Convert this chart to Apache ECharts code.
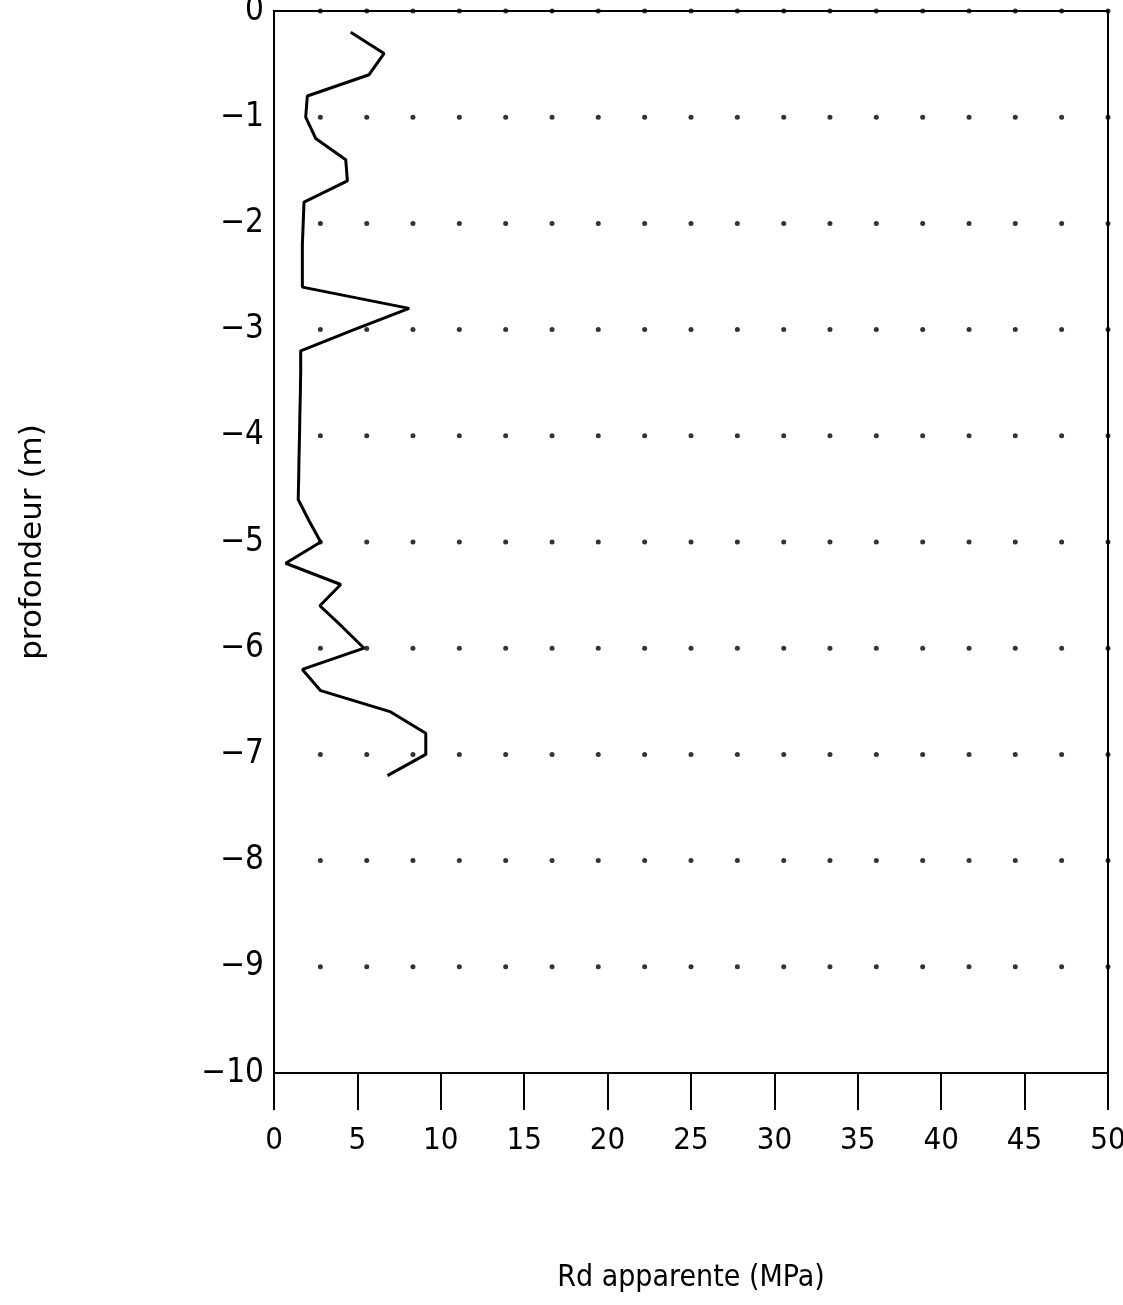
<!DOCTYPE html>
<html>
<head>
<meta charset="utf-8">
<title>Rd apparente</title>
<script src="https://cdn.jsdelivr.net/npm/echarts@6/dist/echarts.min.js"></script>
<style>
  html, body { margin: 0; padding: 0; background: #fff; }
  #chart { width: 1123px; height: 1305px; }
</style>
</head>
<body>
<div id="chart"></div>
<script>
// profondeur (m), pas de 0.2 m
var depths = [-0.2, -0.4, -0.6, -0.8, -1.0, -1.2, -1.4, -1.6, -1.8, -2.0,
  -2.2, -2.4, -2.6, -2.8, -3.0, -3.2, -3.4, -3.6, -3.8, -4.0,
  -4.2, -4.4, -4.6, -4.8, -5.0, -5.2, -5.4, -5.6, -5.8, -6.0,
  -6.2, -6.4, -6.6, -6.8, -7.0, -7.2];
// Rd apparente (MPa)
var rdValues = [4.6, 6.6, 5.7, 2.0, 1.9, 2.5, 4.3, 4.4, 1.8, 1.75,
  1.7, 1.7, 1.7, 8.1, 4.8, 1.6, 1.6, 1.58, 1.55, 1.53,
  1.5, 1.48, 1.45, 2.1, 2.8, 0.7, 4.0, 2.75, 4.1, 5.4,
  1.7, 2.8, 7.0, 9.1, 9.1, 6.8];

// trame de points
var dotCols = [2.78, 5.56, 8.33, 11.11, 13.89, 16.67, 19.44, 22.22, 25,
  27.78, 30.56, 33.33, 36.11, 38.89, 41.67, 44.44, 47.22, 50];
var dotRows = [0, -1, -2, -3, -4, -5, -6, -7, -8, -9];

var xTicks = [0, 5, 10, 15, 20, 25, 30, 35, 40, 45, 50];
var yTicks = [0, -1, -2, -3, -4, -5, -6, -7, -8, -9, -10];

var lineData = depths.map(function (d, i) { return [rdValues[i], d]; });
var dotData = [];
dotRows.forEach(function (r) {
  dotCols.forEach(function (c) { dotData.push([c, r]); });
});

var chartDom = document.getElementById('chart');
var myChart = echarts.init(chartDom);
var option;

var narrow = '"Liberation Sans Narrow", "DejaVu Sans Condensed", sans-serif';

option = {
  animation: false,
  backgroundColor: '#fff',
  grid: {
    left: 274,
    top: 11,
    right: 15,
    bottom: 232,
    outerBoundsMode: 'none',
    containLabel: false,
    show: true,
    borderColor: '#000',
    borderWidth: 2
  },
  xAxis: {
    type: 'value',
    min: xTicks[0],
    max: xTicks[xTicks.length - 1],
    interval: 5,
    position: 'bottom',
    name: 'Rd apparente (MPa)',
    nameLocation: 'middle',
    nameGap: 190,
    nameTextStyle: { fontFamily: narrow, fontSize: 30, color: '#000' },
    axisLine: { show: true, onZero: false, lineStyle: { color: '#000', width: 2 } },
    axisTick: { show: true, inside: false, length: 37, lineStyle: { color: '#000', width: 2 } },
    axisLabel: { margin: 52, fontFamily: narrow, fontSize: 31, color: '#000' },
    splitLine: { show: false }
  },
  yAxis: {
    type: 'value',
    min: yTicks[yTicks.length - 1],
    max: yTicks[0],
    interval: 1,
    name: 'profondeur (m)',
    nameLocation: 'middle',
    nameGap: 226,
    nameRotate: 90,
    nameTextStyle: { fontFamily: '"DejaVu Sans", sans-serif', fontSize: 31, color: '#000' },
    axisLine: { show: true, onZero: false, lineStyle: { color: '#000', width: 2 } },
    axisTick: { show: false },
    axisLabel: {
      margin: 10,
      fontFamily: narrow,
      fontSize: 33,
      color: '#000',
      formatter: function (v) { return String(v).replace('-', '\u2212'); }
    },
    splitLine: { show: false }
  },
  series: [
    {
      name: 'trame',
      type: 'scatter',
      data: dotData,
      symbol: 'circle',
      symbolSize: 5,
      itemStyle: { color: '#000' },
      silent: true
    },
    {
      name: 'Rd',
      type: 'line',
      data: lineData,
      showSymbol: false,
      lineStyle: { color: '#000', width: 3 }
    }
  ]
};

option && myChart.setOption(option);
</script>
</body>
</html>
